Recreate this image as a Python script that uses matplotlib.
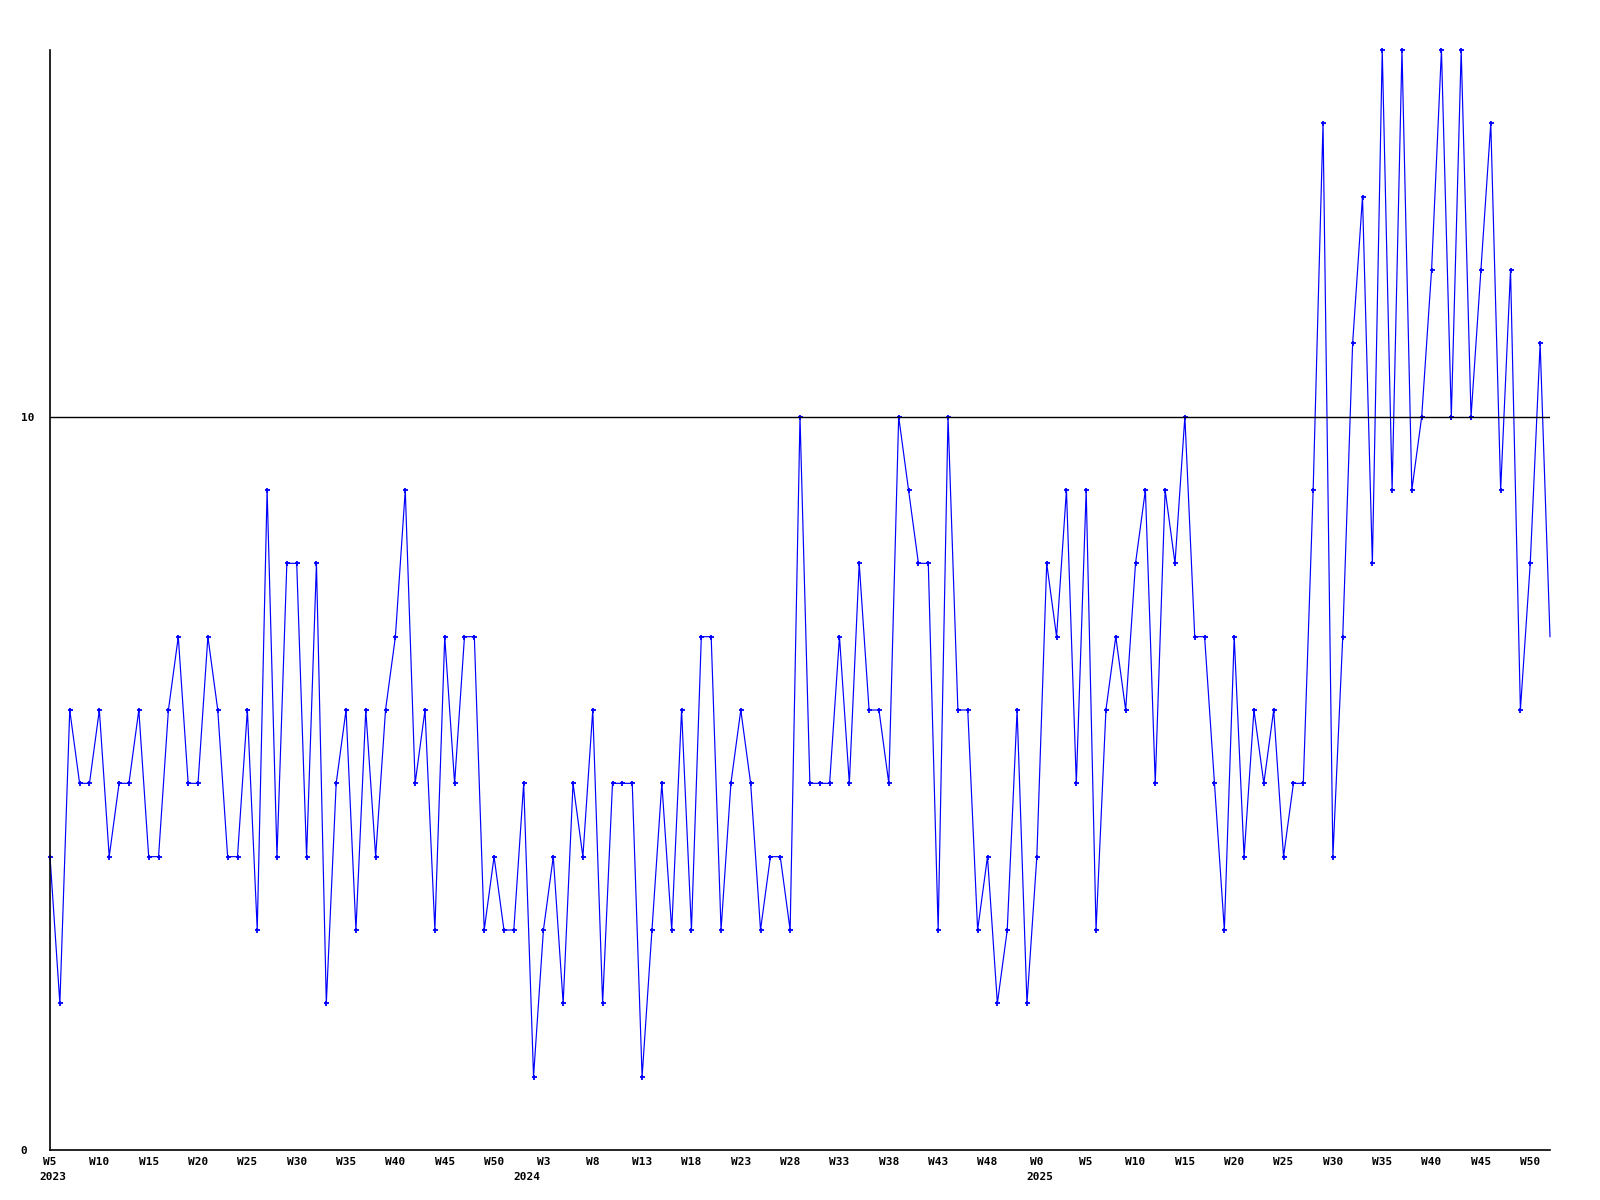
import matplotlib
matplotlib.use("Agg")
import matplotlib.pyplot as plt
import pandas as pd

# weekly observations, Wednesday 2023-02-01 .. 2025-12-31
start_date = "2023-02-01"
values = [4, 2, 6, 5, 5, 6, 4, 5, 5, 6,
          4, 4, 6, 7, 5, 5, 7, 6, 4, 4,
          6, 3, 9, 4, 8, 8, 4, 8, 2, 5,
          6, 3, 6, 4, 6, 7, 9, 5, 6, 3,
          7, 5, 7, 7, 3, 4, 3, 3, 5, 1,
          3, 4, 2, 5, 4, 6, 2, 5, 5, 5,
          1, 3, 5, 3, 6, 3, 7, 7, 3, 5,
          6, 5, 3, 4, 4, 3, 10, 5, 5, 5,
          7, 5, 8, 6, 6, 5, 10, 9, 8, 8,
          3, 10, 6, 6, 3, 4, 2, 3, 6, 2,
          4, 8, 7, 9, 5, 9, 3, 6, 7, 6,
          8, 9, 5, 9, 8, 10, 7, 7, 5, 3,
          7, 4, 6, 5, 6, 4, 5, 5, 9, 14,
          4, 7, 11, 13, 8, 15, 9, 15, 9, 10,
          12, 15, 10, 15, 10, 12, 14, 9, 12, 6,
          8, 11, 7]
reference_level = 10
y_ticks = [0, 10]

dates = pd.date_range(start_date, periods=len(values), freq="7D")
week_labels = ["W%d" % int(d.strftime("%W")) for d in dates]
years = [d.year for d in dates]

x = list(range(len(values)))

fig = plt.figure(figsize=(16, 12), dpi=100)
ax = fig.add_axes([50 / 1600, 50 / 1200, 1500 / 1600, 1100 / 1200])

ax.plot(x, values, color="#0000ff", lw=0.85, marker="+", ms=3.6, mew=1.3,
        markevery=list(range(len(values) - 1)), clip_on=False, zorder=2)
ax.axhline(reference_level, color="black", lw=1.0, zorder=3)

ax.set_xlim(0, len(values) - 1)
ax.set_ylim(0, 15)

for s in ["top", "right"]:
    ax.spines[s].set_visible(False)
for s in ["left", "bottom"]:
    ax.spines[s].set_linewidth(1.2)
    ax.spines[s].set_color("black")

font = dict(family="DejaVu Sans Mono", weight="bold", size=8)

tick_idx = x[::5]
ax.set_xticks(tick_idx)
ax.set_xticklabels([week_labels[i] for i in tick_idx], **font)
ax.tick_params(axis="x", length=0, pad=5)

ax.set_yticks(y_ticks)
ax.set_yticklabels([str(v) for v in y_ticks], **font)
ax.tick_params(axis="y", length=0, pad=21)
for lab in ax.get_yticklabels():
    lab.set_horizontalalignment("left")

# year labels under the first week of each year
seen = set()
for i, yr in enumerate(years):
    if yr not in seen:
        seen.add(yr)
        ax.annotate(str(yr), xy=(i, 0), xycoords=("data", "axes fraction"),
                    xytext=(3, -27), textcoords="offset pixels",
                    ha="center", va="center", **font)

fig.savefig("out.png", dpi=100, facecolor="white")
